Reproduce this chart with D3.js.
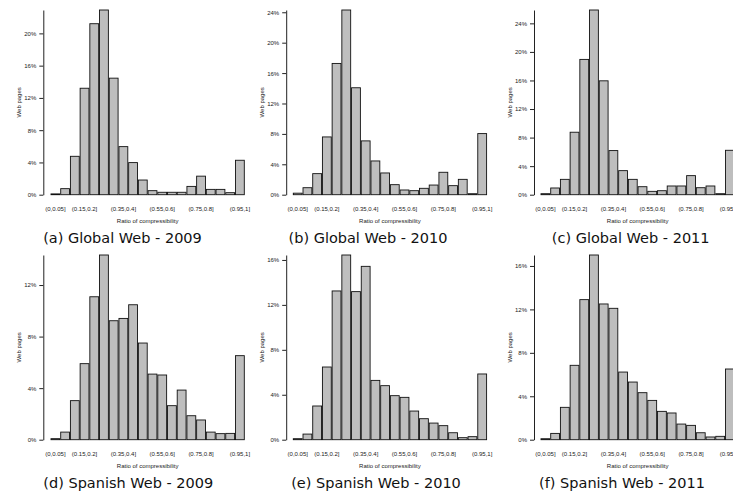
<!DOCTYPE html>
<html>
<head>
<meta charset="utf-8">
<script src="https://cdn.jsdelivr.net/npm/d3@7"></script>
<style>
body { margin: 0; background: white; }
.tick text, .axisTitle { font-family: "Liberation Sans", Arial, sans-serif; font-size: 6px; fill: #222; }
.caption { font-family: "DejaVu Sans", sans-serif; font-size: 14.5px; fill: #111; }
</style>
</head>
<body>
<div class="chart"></div>
<script>
// compressibility bins, one bar each
var bins = ["(0,0.05]", "(0.05,0.1]", "(0.1,0.15]", "(0.15,0.2]", "(0.2,0.25]",
    "(0.25,0.3]", "(0.3,0.35]", "(0.35,0.4]", "(0.4,0.45]", "(0.45,0.5]",
    "(0.5,0.55]", "(0.55,0.6]", "(0.6,0.65]", "(0.65,0.7]", "(0.7,0.75]",
    "(0.75,0.8]", "(0.8,0.85]", "(0.85,0.9]", "(0.9,0.95]", "(0.95,1]"];

// only these get a label under the bars
var shownBins = ["(0,0.05]", "(0.15,0.2]", "(0.35,0.4]", "(0.55,0.6]", "(0.75,0.8]", "(0.95,1]"];

// % of web pages per bin
var global2009 = [0.1, 0.75, 4.76, 13.2, 21.2, 22.9, 14.45, 5.96, 3.98, 1.82,
    0.5, 0.3, 0.3, 0.3, 1.03, 2.3, 0.66, 0.66, 0.25, 4.27];
var global2010 = [0.2, 0.92, 2.77, 7.6, 17.27, 24.3, 14.07, 7.08, 4.44, 2.86,
    1.32, 0.62, 0.53, 0.84, 1.27, 2.95, 1.19, 2.02, 0.13, 8.04];
var global2011 = [0.14, 0.94, 2.15, 8.75, 18.95, 25.87, 15.95, 6.18, 3.37, 2.15,
    1.12, 0.47, 0.56, 1.22, 1.22, 2.67, 0.98, 1.22, 0.14, 6.22];
var spanish2009 = [0.08, 0.59, 3.03, 5.9, 11.09, 14.33, 9.23, 9.41, 10.47, 7.5,
    5.09, 5.02, 2.64, 3.85, 1.86, 1.53, 0.59, 0.47, 0.49, 6.52];
var spanish2010 = [0.09, 0.5, 3.0, 6.47, 13.24, 16.44, 13.18, 15.43, 5.28, 4.81,
    3.92, 3.77, 2.55, 1.87, 1.48, 1.25, 0.62, 0.18, 0.27, 5.85];
var spanish2011 = [0.09, 0.58, 2.98, 6.85, 12.9, 17.01, 12.5, 12.1, 6.23, 5.31,
    4.33, 3.62, 2.61, 2.46, 1.44, 1.32, 0.64, 0.25, 0.31, 6.51];

// y tick labels (in %)
var ticksGlobal2009 = [0, 4, 8, 12, 16, 20];
var ticksGlobal2010 = [0, 4, 8, 12, 16, 20, 24];
var ticksGlobal2011 = [0, 4, 8, 12, 16, 20, 24];
var ticksSpanish2009 = [0, 4, 8, 12];
var ticksSpanish2010 = [0, 4, 8, 12, 16];
var ticksSpanish2011 = [0, 4, 8, 12, 16];

var captions = ["(a) Global Web - 2009", "(b) Global Web - 2010", "(c) Global Web - 2011",
    "(d) Spanish Web - 2009", "(e) Spanish Web - 2010", "(f) Spanish Web - 2011"];

var panels = [
    { values: global2009, ticks: ticksGlobal2009, caption: captions[0], col: 0, row: 0, capX: 122.5 },
    { values: global2010, ticks: ticksGlobal2010, caption: captions[1], col: 1, row: 0, capX: 368 },
    { values: global2011, ticks: ticksGlobal2011, caption: captions[2], col: 2, row: 0, capX: 630.7 },
    { values: spanish2009, ticks: ticksSpanish2009, caption: captions[3], col: 0, row: 1, capX: 128.3 },
    { values: spanish2010, ticks: ticksSpanish2010, caption: captions[4], col: 1, row: 1, capX: 376 },
    { values: spanish2011, ticks: ticksSpanish2011, caption: captions[5], col: 2, row: 1, capX: 622 }
];

var axisXs = [43.3, 286.2, 534];
var barStarts = [51, 293.3, 541];
var barsWidth = 193.3;
var rowShift = 245;

var svg = d3.select(".chart")
    .append("svg")
    .attr("width", 733)
    .attr("height", 495)

panels.forEach(function(p) {
    var zeroY = 194.7 + p.row * rowShift;
    var topY = 10 + p.row * rowShift;
    var axisX = axisXs[p.col];
    var x0 = barStarts[p.col];

    var x = d3.scaleBand()
        .domain(bins)
        .range([x0, x0 + barsWidth])
        .paddingInner(0.09)
        .paddingOuter(0);

    var y = d3.scaleLinear()
        .domain([0, d3.max(p.values)])
        .range([zeroY, topY]);

    var g = svg.append("g");

    g.selectAll(".bar")
        .data(p.values)
        .enter().append("rect")
        .attr("class", "bar")
        .attr("x", function(d, i) { return x(bins[i]); })
        .attr("y", function(d) { return y(d); })
        .attr("width", x.bandwidth())
        .attr("height", function(d) { return y(0) - y(d); })
        .attr("fill", "#bebebe")
        .attr("stroke", "#111")
        .style("stroke-width", 0.9);

    var yAxis = g.append("g")
        .attr("transform", "translate(" + axisX + ",0)")
        .call(d3.axisLeft(y)
            .tickValues(p.ticks)
            .tickSize(4)
            .tickSizeOuter(0)
            .tickPadding(3)
            .tickFormat(function(d) { return d + "%"; }));
    yAxis.selectAll("path, line").attr("stroke", "#222");
    yAxis.selectAll("text").style("font-size", null).style("font-family", null);
    yAxis.attr("font-size", null).attr("font-family", null);

    var xAxis = g.append("g")
        .attr("transform", "translate(0," + zeroY + ")")
        .call(d3.axisBottom(x)
            .tickValues(shownBins)
            .tickSize(0)
            .tickPadding(11.8));
    xAxis.select(".domain").remove();
    xAxis.attr("font-size", null).attr("font-family", null);

    g.append("text")
        .attr("class", "axisTitle")
        .attr("x", x0 + barsWidth / 2)
        .attr("y", zeroY + 28)
        .style("text-anchor", "middle")
        .text("Ratio of compressibility");

    g.append("text")
        .attr("class", "axisTitle")
        .attr("transform", "translate(" + (axisX - 22) + "," + ((zeroY + topY) / 2) + ") rotate(-90)")
        .style("text-anchor", "middle")
        .text("Web pages");

    g.append("text")
        .attr("class", "caption")
        .attr("x", p.capX)
        .attr("y", zeroY + 48.6)
        .style("text-anchor", "middle")
        .text(p.caption);
});
</script>
</body>
</html>
